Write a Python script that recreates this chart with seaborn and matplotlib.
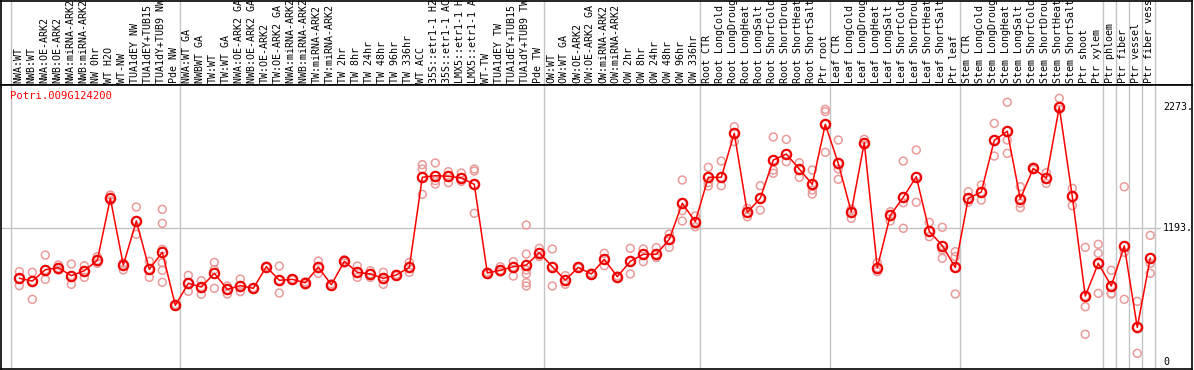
import matplotlib
matplotlib.use("Agg")
import matplotlib.pyplot as plt
import seaborn as sns
import pandas as pd
import numpy as np

gene_id = "Potri.009G124200"

samples = [
    "NWA:WT", "NWB:WT", "NWA:OE-ARK2", "NWB:OE-ARK2", "NWA:miRNA-ARK2", "NWB:miRNA-ARK2",
    "NW 0hr", "WT H2O", "WT-NW", "TUA1dEY NW", "TUA1dEY+TUB15 NW", "TUA1dY+TUB9 NW", "Pde NW",
    "NWA:WT GA", "NWBWT GA", "TW:WT", "TW:WT GA", "NWA:OE-ARK2 GA", "NWB:OE-ARK2 GA",
    "TW:OE-ARK2", "TW:OE-ARK2 GA", "NWA:miRNA-ARK2 GA", "NWB:miRNA-ARK2 GA", "TW:miRNA-ARK2",
    "TW:miRNA-ARK2 GA", "TW 2hr", "TW 8hr", "TW 24hr", "TW 48hr", "TW 96hr", "TW 336hr",
    "WT ACC", "35S::etr1-1 H2O", "35S::etr1-1 ACC", "LMX5::etr1-1 H2O", "LMX5::etr1-1 ACC",
    "WT-TW", "TUA1dEY TW", "TUA1dEY+TUB15 TW", "TUA1dY+TUB9 TW", "Pde TW",
    "OW:WT", "OW:WT GA", "OW:OE-ARK2", "OW:OE-ARK2 GA", "OW:miRNA-ARK2", "OW:miRNA-ARK2 GA",
    "OW 2hr", "OW 8hr", "OW 24hr", "OW 48hr", "OW 96hr", "OW 336hr",
    "Root CTR", "Root LongCold", "Root LongDrought", "Root LongHeat", "Root LongSalt",
    "Root ShortCold", "Root ShortDrought", "Root ShortHeat", "Root ShortSalt", "Ptr root",
    "Leaf CTR", "Leaf LongCold", "Leaf LongDrought", "Leaf LongHeat", "Leaf LongSalt",
    "Leaf ShortCold", "Leaf ShortDrought", "Leaf ShortHeat", "Leaf ShortSalt", "Ptr leaf",
    "Stem CTR", "Stem LongCold", "Stem LongDrought", "Stem LongHeat", "Stem LongSalt",
    "Stem ShortCold", "Stem ShortDrought", "Stem ShortHeat", "Stem ShortSalt", "Ptr shoot",
    "Ptr xylem", "Ptr phloem", "Ptr fiber", "Ptr vessel", "Ptr fiber vessel",
]

group_sizes = [13, 28, 12, 10, 10, 11, 1, 1, 1, 1]

mean_expr = [
    744, 719, 820, 838, 767, 811, 904, 1458, 862, 1255, 824, 976, 502,
    699, 666, 788, 645, 678, 654, 847, 726, 734, 704, 844, 686, 895, 797, 782, 743, 773, 841,
    1645, 1660, 1654, 1639, 1582, 791, 815, 847, 862, 972,
    847, 728, 841, 782, 913, 758, 895, 958, 958, 1092, 1413, 1249,
    1645, 1645, 2038, 1332, 1458, 1799, 1853, 1719, 1582, 2118,
    1770, 1335, 1954, 838, 1306, 1467, 1650, 1163, 1035, 841,
    1458, 1514, 1975, 2056, 1451, 1725, 1636, 2273, 1475, 585, 877,
    675, 1032, 306, 925,
]

replicates = [
    [803, 744, 678], [797, 719, 556], [951, 820, 734], [862, 838, 818], [871, 767, 690],
    [856, 811, 752], [937, 904, 877], [1487, 1458, 1436], [862, 818, 880], [1380, 1255, 1136],
    [895, 824, 752], [1359, 1234, 1002, 883, 815, 708], [510, 502, 494],
    [770, 699, 627], [722, 666, 601], [886, 820, 654], [675, 645, 603], [737, 678, 624],
    [660, 654, 648], [853, 847, 840], [853, 726, 612], [740, 734, 728], [684, 704, 712],
    [898, 844, 788], [686, 694, 680], [910, 895, 880], [853, 797, 752], [811, 782, 752],
    [797, 743, 690], [780, 773, 766], [886, 841, 797], [1758, 1719, 1645, 1493],
    [1773, 1660, 1615, 1585], [1695, 1654, 1597], [1683, 1639, 1609], [1719, 1701, 1582, 1324],
    [780, 791, 800], [847, 815, 800], [892, 847, 764], [1219, 960, 862, 818, 782, 704, 675],
    [1011, 972, 937],
    [1005, 847, 675], [767, 728, 690], [841, 848, 835], [790, 782, 775], [967, 913, 856],
    [765, 758, 750], [1011, 895, 782], [1005, 958, 892], [1017, 958, 928], [1139, 1092, 1020],
    [1621, 1413, 1347, 1255], [1300, 1249, 1204],
    [1734, 1645, 1597, 1567], [1790, 1645, 1570], [2097, 2038, 1963], [1368, 1332, 1293],
    [1570, 1458, 1353], [2005, 1799, 1710, 1681], [1984, 1853, 1784], [1775, 1719, 1645],
    [1710, 1582, 1532, 1496], [2252, 2231, 2118, 1868],
    [1978, 1770, 1719, 1627], [1360, 1335, 1279], [1984, 1954, 1935], [883, 838, 803],
    [1338, 1306, 1255], [1790, 1467, 1418, 1190], [1889, 1650, 1422], [1243, 1163, 1115],
    [1199, 1035, 996, 922], [981, 937, 841, 603],
    [1517, 1458, 1422], [1576, 1514, 1442], [2127, 1975, 1835], [2315, 2056, 1978, 1859],
    [1561, 1451, 1413, 1374], [1735, 1725, 1715], [1686, 1636, 1591], [2350, 2273, 2252],
    [1547, 1475, 1392], [1020, 585, 490, 244], [1047, 967, 877, 609],
    [815, 675, 603, 610], [1561, 1032, 976, 556], [538, 306, 74], [1127, 925, 877, 788],
]

ytick_values = [2273, 1193, 0]
ytick_labels = ["2273.", "1193.", "0"]

# ---------------------------------------------------------------
sns.set_theme(style="white")
plt.rcParams["font.family"] = ["DejaVu Sans Mono"]

W, H = 1194, 370
fig = plt.figure(figsize=(W / 100, H / 100), dpi=100)

left_px, right_px = 1, 1192
header_bottom_px = 85
plot_bottom_px = 369

ax_h = fig.add_axes([left_px / W, (H - header_bottom_px) / H, (right_px - left_px) / W,
                     header_bottom_px / H - 0.5 / H])
ax = fig.add_axes([left_px / W, (H - plot_bottom_px) / H, (right_px - left_px) / W,
                   (plot_bottom_px - header_bottom_px) / H])

x_pos = np.arange(1, len(samples) + 1)
xlim = (-0.41, 91.21)

mean_df = pd.DataFrame({"x": x_pos, "sample": samples, "expr": mean_expr})
rep_df = pd.DataFrame(
    [(i + 1, s, v) for i, (s, vals) in enumerate(zip(samples, replicates)) for v in vals],
    columns=["x", "sample", "expr"],
)

# separators between sample groups
bounds = np.concatenate([[0], np.cumsum(group_sizes)]) + 0.35
for b in bounds:
    ax.axvline(b, color="#c4c4c4", lw=1, zorder=0)
    ax_h.axvline(b, color="#c4c4c4", lw=1, zorder=0)

ax.axhline(1193, xmin=0, xmax=(1160 - left_px) / (right_px - left_px), color="#c4c4c4", lw=1, zorder=0)

sns.scatterplot(data=rep_df, x="x", y="expr", ax=ax, marker="o", s=32,
                facecolors="none", edgecolor="#eb9a9a", linewidth=1.1, zorder=2, legend=False)
sns.lineplot(data=mean_df, x="x", y="expr", ax=ax, color="#ff0000", lw=1.1,
             marker="o", markersize=6.8, markerfacecolor="none", markeredgecolor="#ee0000",
             markeredgewidth=1.5, zorder=3, legend=False)

ax.set_xlim(*xlim)
ax.set_ylim(-66, 2469)
ax.set_xlabel("")
ax.set_ylabel("")
ax.set_xticks([])
ax.set_yticks([])

for v, lab in zip(ytick_values, ytick_labels):
    ax.text((1163 - left_px) / (right_px - left_px), v, lab,
            transform=ax.get_yaxis_transform(), ha="left", va="center",
            fontsize=7.2, color="black")

ax.text((10 - left_px) / (right_px - left_px), 1 - 11 / 284, gene_id, transform=ax.transAxes,
        ha="left", va="center", fontsize=7.6, color="#ff0000")

# header with rotated sample names
ax_h.set_xlim(*xlim)
ax_h.set_ylim(0, 1)
ax_h.set_xticks([])
ax_h.set_yticks([])
for i, s in zip(x_pos, samples):
    ax_h.text(i - 0.08, 2 / 85, s, rotation=90, ha="center", va="bottom",
              fontsize=7.2, color="black", clip_on=True)

for a in (ax, ax_h):
    for sp in a.spines.values():
        sp.set_visible(True)
        sp.set_color("black")
        sp.set_linewidth(1.2)
    a.set_facecolor("white")

fig.savefig("out.png", dpi=100, facecolor="white")
